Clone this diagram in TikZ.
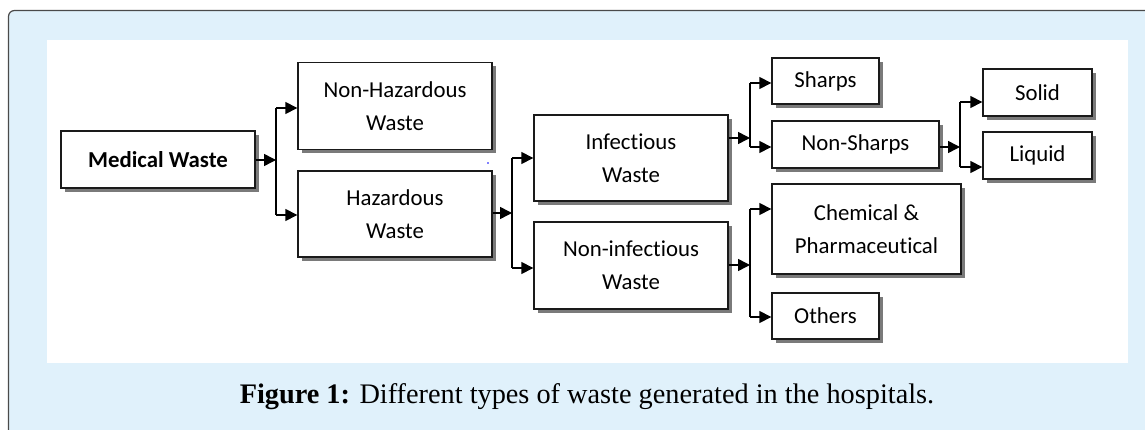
\documentclass[tikz,border=0pt]{standalone}
\usepackage{fontspec}
\setmainfont[Ligatures=NoCommon]{Carlito}
\newfontfamily\capfont{Liberation Serif}
\usetikzlibrary{arrows.meta,shadows}
\definecolor{panelblue}{HTML}{E0F1FB}
\definecolor{frameline}{HTML}{4A4A4A}
\definecolor{shadowgray}{HTML}{7A7A7A}
\definecolor{boxline}{HTML}{1A1A1A}
\tikzset{
  wbox/.style={draw=boxline, line width=1.4pt, fill=white, align=center, inner sep=0pt,
    font=\fontsize{22.8}{33}\selectfont,
    drop shadow={shadow xshift=4pt, shadow yshift=-4pt, fill=shadowgray, opacity=1}},
  conn/.style={line width=1.5pt, draw=black},
  arr/.style={conn, -{Triangle[length=12pt,width=12pt]}}
}
\begin{document}
\begin{tikzpicture}[x=1pt,y=-1pt]
\useasboundingbox (0,0) rectangle (1145,430);
\clip (0,0) rectangle (1145,430);
% frame
\draw[fill=panelblue, draw=frameline, line width=1.2pt, rounded corners=6pt] (8.5,10.5) rectangle (1180,460);
\fill[white] (47,40) rectangle (1128,363);
% boxes
\node[wbox, minimum width=194pt, minimum height=57pt, font=\fontsize{22.8}{33}\selectfont\bfseries] (med) at (158,159.5) {Medical Waste};
\node[wbox, minimum width=194pt, minimum height=87pt] (nonhaz) at (395,106) {Non-Hazardous\\Waste};
\node[wbox, minimum width=194pt, minimum height=86pt] (haz) at (395,214) {Hazardous\\Waste};
\node[wbox, minimum width=194pt, minimum height=86pt] (inf) at (631,158) {Infectious\\Waste};
\node[wbox, minimum width=194pt, minimum height=87pt] (noninf) at (631,265.5) {Non-infectious\\Waste};
\node[wbox, minimum width=107pt, minimum height=46pt] (sharps) at (825.5,81) {Sharps};
\node[wbox, minimum width=167pt, minimum height=47pt] (nonsharps) at (855.5,144.5) {Non-Sharps};
\node[wbox, minimum width=189pt, minimum height=90pt] (chem) at (866.5,229) {Chemical \&\\Pharmaceutical};
\node[wbox, minimum width=107pt, minimum height=46pt] (others) at (825.5,316) {Others};
\node[wbox, minimum width=109pt, minimum height=47pt] (solid) at (1037.5,92.5) {Solid};
\node[wbox, minimum width=109pt, minimum height=47pt] (liquid) at (1037.5,155.5) {Liquid};
% junction coordinates
\coordinate (j1) at (276,160);
\coordinate (j1a) at (276,108);
\coordinate (j1b) at (276,215);
\coordinate (j2) at (512,213);
\coordinate (j2a) at (512,158);
\coordinate (j2b) at (512,268);
\coordinate (j3) at (750,138);
\coordinate (j3a) at (750,83);
\coordinate (j3b) at (750,147);
\coordinate (j4) at (750,265);
\coordinate (j4a) at (750,209);
\coordinate (j4b) at (750,317);
\coordinate (j5) at (960,147);
\coordinate (j5a) at (960,102);
\coordinate (j5b) at (960,167);
% connectors
\draw[arr] (med.east |- j1) -- (j1);
\draw[conn] (j1a) -- (j1b);
\draw[arr] (j1a) -- (nonhaz.west |- j1a);
\draw[arr] (j1b) -- (haz.west |- j1b);
\draw[arr] (haz.east |- j2) -- (j2);
\draw[conn] (j2a) -- (j2b);
\draw[arr] (j2a) -- (inf.west |- j2a);
\draw[arr] (j2b) -- (noninf.west |- j2b);
\draw[arr] (inf.east |- j3) -- (j3);
\draw[conn] (j3a) -- (j3b);
\draw[arr] (j3a) -- (sharps.west |- j3a);
\draw[arr] (j3b) -- (nonsharps.west |- j3b);
\draw[arr] (noninf.east |- j4) -- (j4);
\draw[conn] (j4a) -- (j4b);
\draw[arr] (j4a) -- (chem.west |- j4a);
\draw[arr] (j4b) -- (others.west |- j4b);
\draw[arr] (nonsharps.east |- j5) -- (j5);
\draw[conn] (j5a) -- (j5b);
\draw[arr] (j5a) -- (solid.west |- j5a);
\draw[arr] (j5b) -- (liquid.west |- j5b);
% stray dot
\fill[blue] (488,163) circle (0.9pt);
% caption
\node[font=\capfont\fontsize{28.3}{32}\selectfont, anchor=base, inner sep=0pt] (cap) at (587,403) {\textbf{Figure 1:} Different types of waste generated in the hospitals.};
\end{tikzpicture}
\end{document}
